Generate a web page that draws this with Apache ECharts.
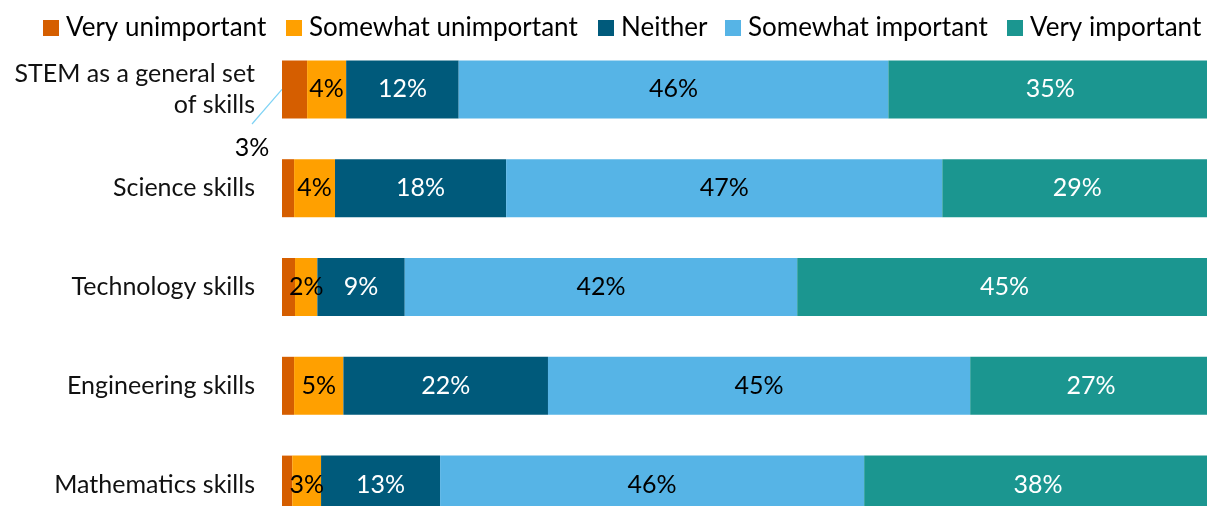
<!DOCTYPE html>
<html>
<head>
<meta charset="utf-8">
<script src="https://cdn.jsdelivr.net/npm/echarts@6/dist/echarts.min.js"></script>
<style>
  html, body { margin: 0; padding: 0; background: #fff; }
  #chart { width: 1207px; height: 506px; }
</style>
</head>
<body>
<div id="chart"></div>
<script>
// 类别（从上到下）
let categories = [
  "STEM as a general set\nof skills",
  "Science skills",
  "Technology skills",
  "Engineering skills",
  "Mathematics skills"
];
let seriesNames = ["Very unimportant", "Somewhat unimportant", "Neither", "Somewhat important", "Very important"];

// 各系列百分比
let veryUnimportant = [2.7, 1.3, 1.4, 1.3, 1.1];
let somewhatUnimportant = [4.2, 4.4, 2.4, 5.3, 3.1];
let neither = [12.1, 18.4, 9.4, 22.0, 12.8];
let somewhatImportant = [46.2, 46.9, 42.2, 45.4, 45.6];
let veryImportant = [35.0, 29.2, 45.0, 26.8, 37.8];

let colors = ["#D55E00", "#FFA000", "#005A7B", "#56B4E6", "#1B9690"];
let labelColors = ["#000", "#000", "#fff", "#000", "#fff"];
let FONT = "Lato";
let FS = 25;

let chart = echarts.init(document.getElementById("chart"));

let pctLabel = function(color) {
  return {
    show: true,
    position: "inside",
    color: color,
    fontFamily: FONT,
    fontSize: FS,
    formatter: function(p) { return Math.round(p.value) + "%"; }
  };
};

// 图例：每项单独定位
let legendLeft = [43, 286, 598, 725, 1007];
let legends = seriesNames.map(function(name, i) {
  return {
    data: [name],
    left: legendLeft[i],
    top: 15,
    padding: 0,
    icon: "rect",
    itemWidth: 16,
    itemHeight: 16,
    selectedMode: false,
    textStyle: { fontFamily: FONT, fontSize: 26, color: "#000", padding: [0, 0, 0, 2] }
  };
});

let allData = [veryUnimportant, somewhatUnimportant, neither, somewhatImportant, veryImportant];

let series = allData.map(function(vals, i) {
  let s = {
    name: seriesNames[i],
    type: "bar",
    stack: "total",
    barWidth: 58,
    itemStyle: { color: colors[i] },
    label: pctLabel(labelColors[i]),
    data: vals
  };
  if (i === 0) {
    // 只显示第一行的标签，移到柱外
    s.label = { show: false, color: "#000", fontFamily: FONT, fontSize: FS,
      formatter: function(p) { return Math.round(p.value) + "%"; } };
    s.data = vals.map(function(v, k) {
      return k === 0 ? { value: v, label: { show: true } } : v;
    });
    s.labelLayout = function(params) {
      if (params.dataIndex === 0) {
        return { x: 252, y: 148, align: "center", verticalAlign: "middle" };
      }
    };
  }
  return s;
});

chart.setOption({
  animation: false,
  legend: legends,
  grid: { left: 282, width: 930, top: 40, height: 494, outerBoundsMode: "none", containLabel: false },
  xAxis: { type: "value", min: 0, max: 100, show: false },
  yAxis: {
    type: "category",
    inverse: true,
    data: categories,
    axisLine: { show: false },
    axisTick: { show: false },
    axisLabel: {
      margin: 27,
      fontFamily: FONT,
      fontSize: FS,
      lineHeight: 31,
      color: "#111",
      align: "right"
    }
  },
  series: series
});

// 引导线：从柱左侧中点到外移的标签
let p0 = chart.convertToPixel({ gridIndex: 0 }, [0, 0]);
chart.setOption({
  graphic: [{
    type: "line",
    shape: { x1: p0[0], y1: p0[1], x2: 252, y2: 124 },
    style: { stroke: "#7FD3F5", lineWidth: 1.2 },
    silent: true
  }]
});
</script>
</body>
</html>
